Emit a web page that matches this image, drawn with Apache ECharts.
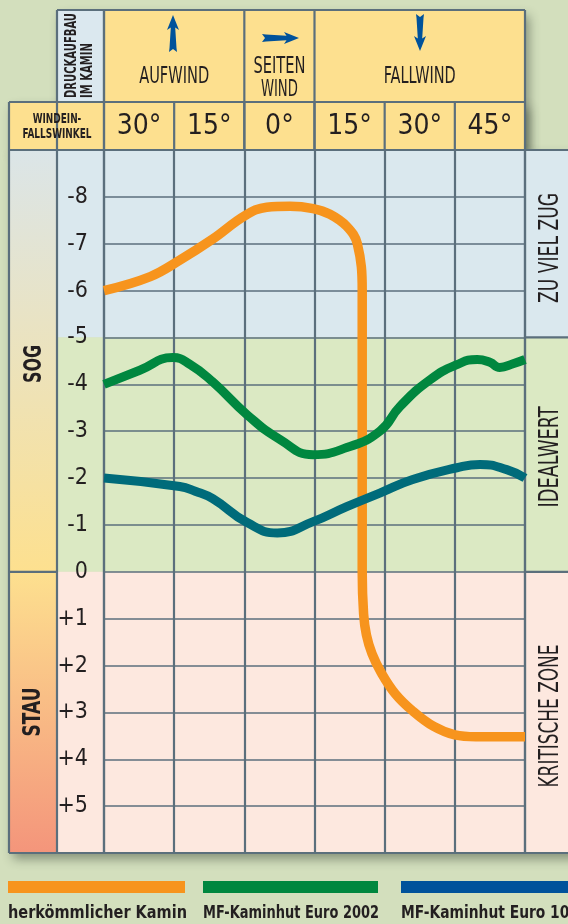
<!DOCTYPE html>
<html>
<head>
<meta charset="utf-8">
<script src="https://cdn.jsdelivr.net/npm/echarts@6/dist/echarts.min.js"></script>
<style>
html,body{margin:0;padding:0;background:#d3dfbd;}
#c{width:568px;height:924px;}
</style>
</head>
<body>
<div id="c"></div>
<script>
// ---------- data ----------
const angleLabels = ['30°', '15°', '0°', '15°', '30°', '45°'];
const windGroups = ['AUFWIND', 'SEITEN', 'WIND', 'FALLWIND'];
const windGroupSpans = [[0, 2], [2, 3], [3, 6]];
const yTicks = [-8, -7, -6, -5, -4, -3, -2, -1, 0, 1, 2, 3, 4, 5];
const yTickLabels = ['-8', '-7', '-6', '-5', '-4', '-3', '-2', '-1', '0', '+1', '+2', '+3', '+4', '+5'];
const zoneLabels = ['ZU VIEL ZUG', 'IDEALWERT', 'KRITISCHE ZONE'];
const zoneBounds = [[-9, -5], [-5, 0], [0, 6]];
const sideLabels = ['SOG', 'STAU'];
const seriesNames = ['herkömmlicher Kamin', 'MF-Kaminhut Euro 2002', 'MF-Kaminhut Euro 100'];

// x = position along the angle columns (0 = left edge of "30°" Aufwind, 6 = right edge of "45°")
const kaminData = [
  [0, -6.0], [0.66, -6.3], [1.08, -6.65], [1.55, -7.1], [2.01, -7.6], [2.32, -7.78],
  [2.65, -7.8], [2.98, -7.75], [3.22, -7.63], [3.46, -7.37], [3.61, -7.0], [3.68, -6.0],
  [3.68, 0], [3.70, 0.9], [3.74, 1.35], [3.82, 1.75], [3.95, 2.15], [4.15, 2.6],
  [4.40, 2.97], [4.70, 3.3], [5.0, 3.48], [5.3, 3.52], [6.0, 3.52]
];
const euro2002Data = [
  [0, -4.0], [0.51, -4.3], [0.98, -4.57], [1.23, -4.42], [1.55, -4.05], [2.04, -3.35], [2.51, -2.82],
  [2.98, -2.5], [3.46, -2.65], [3.93, -3.0], [4.22, -3.53], [4.65, -4.1], [5.03, -4.42],
  [5.32, -4.53], [5.5, -4.47], [5.64, -4.36], [5.83, -4.44], [6.0, -4.53]
];
const euro100Data = [
  [0, -2.0], [1.08, -1.82], [1.3, -1.72], [1.55, -1.56], [2.04, -1.05], [2.47, -0.83], [2.98, -1.07],
  [3.46, -1.39], [3.93, -1.68], [4.40, -1.97], [5.03, -2.22], [5.36, -2.29], [5.74, -2.18],
  [6.0, -2.0]
];
const lineColors = ['#f7941d', '#00873f', '#006b7a'];
const legendColors = ['#f7941d', '#00873f', '#00529b'];

// ---------- style / layout ----------
const NARROW = '"Liberation Sans Narrow","DejaVu Sans Condensed","Arial Narrow",sans-serif';
const TXT = '#231f20';
const LINE = '#5b6f7c';
const GL = 104, GR = 525, GT = 150, GB = 853;
const yMin = -9, yMax = 6;
const yPx = v => GT + (v - yMin) / (yMax - yMin) * (GB - GT);
const xPx = u => GL + u / 6 * (GR - GL);
const zoneColors = ['#dae8ee', '#dbe9c3', '#fde8df'];

const mctx = document.createElement('canvas').getContext('2d');
function measure(t, font) { mctx.font = font; return mctx.measureText(t).width; }

const chart = echarts.init(document.getElementById('c'), null, {renderer: 'canvas', width: 568, height: 924});

const g = [];
// shadows
[[57, 10, 468, 140], [9, 102, 516, 48], [9, 150, 600, 703]].forEach(r => {
  g.push({type: 'rect', z: -30, shape: {x: r[0], y: r[1], width: r[2], height: r[3]},
    style: {fill: '#d3dfbd', shadowBlur: 10, shadowOffsetX: 4, shadowOffsetY: 6, shadowColor: 'rgba(40,50,40,0.45)'}});
});
// bands
zoneBounds.forEach((b, i) => {
  g.push({type: 'rect', z: -20, shape: {x: 57, y: yPx(b[0]), width: 540, height: yPx(b[1]) - yPx(b[0])},
    style: {fill: zoneColors[i]}});
});
// left gradient column
g.push({type: 'rect', z: -20, shape: {x: 9, y: GT, width: 48, height: yPx(0) - GT},
  style: {fill: new echarts.graphic.LinearGradient(0, 0, 0, 1, [{offset: 0, color: '#dbe5e8'}, {offset: 1, color: '#fde08f'}])}});
g.push({type: 'rect', z: -20, shape: {x: 9, y: yPx(0), width: 48, height: GB - yPx(0)},
  style: {fill: new echarts.graphic.LinearGradient(0, 0, 0, 1, [{offset: 0, color: '#fde08f'}, {offset: 1, color: '#f4957b'}])}});
// header cells
g.push({type: 'rect', z: -20, shape: {x: 57, y: 10, width: 47, height: 92}, style: {fill: '#dbe8ef'}});
g.push({type: 'rect', z: -20, shape: {x: 104, y: 10, width: 421, height: 92}, style: {fill: '#fde08f'}});
g.push({type: 'rect', z: -20, shape: {x: 9, y: 102, width: 516, height: 48}, style: {fill: '#fde08f'}});

// frame lines
const segs = [
  [57, 10, 525, 10], [9, 102, 525, 102], [9, GT, 575, GT], [9, GB, 575, GB],
  [9, yPx(0), 57, yPx(0)], [525, yPx(0), 575, yPx(0)], [525, yPx(-5), 575, yPx(-5)],
  [9, 102, 9, GB], [57, 10, 57, GB], [104, 10, 104, GB], [525, 10, 525, GB]
];
windGroupSpans.forEach(s => { segs.push([xPx(s[0]), 10, xPx(s[0]), GT]); });
for (let i = 1; i < 6; i++) segs.push([xPx(i), 102, xPx(i), GT]);
segs.forEach(s => g.push({type: 'line', z: 1, shape: {x1: s[0], y1: s[1], x2: s[2], y2: s[3]},
  style: {stroke: LINE, lineWidth: 2.2}}));

// text fitted to a target length (in px along the text direction)
function txt(t, x, y, font, len, opts) {
  opts = opts || {};
  const sc = len ? len / measure(t, font) : 1;
  const align = opts.align || 'center';
  g.push({type: 'text', z: 10, x: x, y: y, rotation: opts.rotation || 0, scaleX: opts.scale || sc,
    style: {text: t, font: font, fill: TXT, align: align, textAlign: align,
      verticalAlign: 'middle', textVerticalAlign: 'middle'}});
  return sc;
}
// header texts
const HF = '23px ' + NARROW;
txt(windGroups[0], (xPx(0) + xPx(2)) / 2, 77, HF, 70);
txt(windGroups[1], (xPx(2) + xPx(3)) / 2, 67, HF, 52);
txt(windGroups[2], (xPx(2) + xPx(3)) / 2, 90, HF, 37);
txt(windGroups[3], (xPx(3) + xPx(6)) / 2, 77, HF, 72);
const DF = 'bold 16px ' + NARROW;
const dsc = txt('DRUCKAUFBAU', 72, 98, DF, 85, {rotation: Math.PI / 2, align: 'left'});
txt('IM KAMIN', 88, 98, DF, 0, {rotation: Math.PI / 2, align: 'left', scale: dsc});
const WF = 'bold 14px ' + NARROW;
const wsc = txt('FALLSWINKEL', 57, 134, WF, 69);
txt('WINDEIN-', 57, 119, WF, 0, {scale: wsc});
// side texts
txt(sideLabels[0], 34, 364, 'bold 25px ' + NARROW, 38, {rotation: Math.PI / 2});
txt(sideLabels[1], 33, 712, 'bold 25px ' + NARROW, 49, {rotation: Math.PI / 2});
const zoneCenters = [248, 457, 716];
const zoneLens = [110, 101, 143];
zoneLabels.forEach((t, i) => txt(t, 551, zoneCenters[i], '27px ' + NARROW, zoneLens[i], {rotation: Math.PI / 2}));

// arrows
const arrowPts = [[0, 0], [6, 15], [2.2, 12.5], [3.5, 33], [4, 37], [0, 34], [-4, 37], [-3.5, 33], [-2.2, 12.5], [-6, 15]];
[[173, 15, 0], [299, 38, -Math.PI / 2], [420, 51, Math.PI]].forEach(a => {
  g.push({type: 'polygon', z: 10, x: a[0], y: a[1], rotation: a[2], shape: {points: arrowPts}, style: {fill: '#00529b'}});
});

// legend
const legX = [[8, 185], [203, 378], [401, 580]];
const legLens = [179, 176, 178];
seriesNames.forEach((n, i) => {
  g.push({type: 'rect', z: 10, shape: {x: legX[i][0], y: 881, width: legX[i][1] - legX[i][0], height: 12}, style: {fill: legendColors[i]}});
  txt(n, legX[i][0], 914, 'bold 17px ' + NARROW, legLens[i], {align: 'left'});
});

const option = {
  animation: false,
  backgroundColor: '#d3dfbd',
  grid: {left: GL, top: GT, width: GR - GL, height: GB - GT, containLabel: false},
  xAxis: [
    {type: 'value', position: 'bottom', min: 0, max: 6, interval: 1,
     axisLine: {show: false}, axisTick: {show: false}, axisLabel: {show: false},
     splitLine: {show: true, lineStyle: {color: LINE, width: 2.2}}},
    {type: 'category', position: 'top', data: angleLabels, boundaryGap: true,
     axisLine: {show: false}, axisTick: {show: false}, splitLine: {show: false},
     axisLabel: {margin: 23, fontSize: 28, fontFamily: NARROW, color: TXT, verticalAlign: 'middle'}}
  ],
  yAxis: {type: 'value', inverse: true, min: yMin, max: yMax, interval: 1,
    axisLine: {show: false}, axisTick: {show: false},
    splitLine: {show: true, lineStyle: {color: LINE, width: 1.6}},
    axisLabel: {margin: 16, fontSize: 23, fontFamily: NARROW, color: TXT,
      formatter: v => { const i = yTicks.indexOf(v); return i >= 0 ? yTickLabels[i] : ''; }}},
  series: [kaminData, euro2002Data, euro100Data].map((d, i) => ({
    name: seriesNames[i], type: 'line', xAxisIndex: 0, yAxisIndex: 0, data: d,
    smooth: i === 0 ? 0.4 : 0.5, symbol: 'none', z: 5,
    lineStyle: {color: lineColors[i], width: i === 0 ? 9.5 : 9, cap: 'butt', join: 'round'}
  })),
  graphic: {elements: g}
};
chart.setOption(option);
</script>
</body>
</html>
